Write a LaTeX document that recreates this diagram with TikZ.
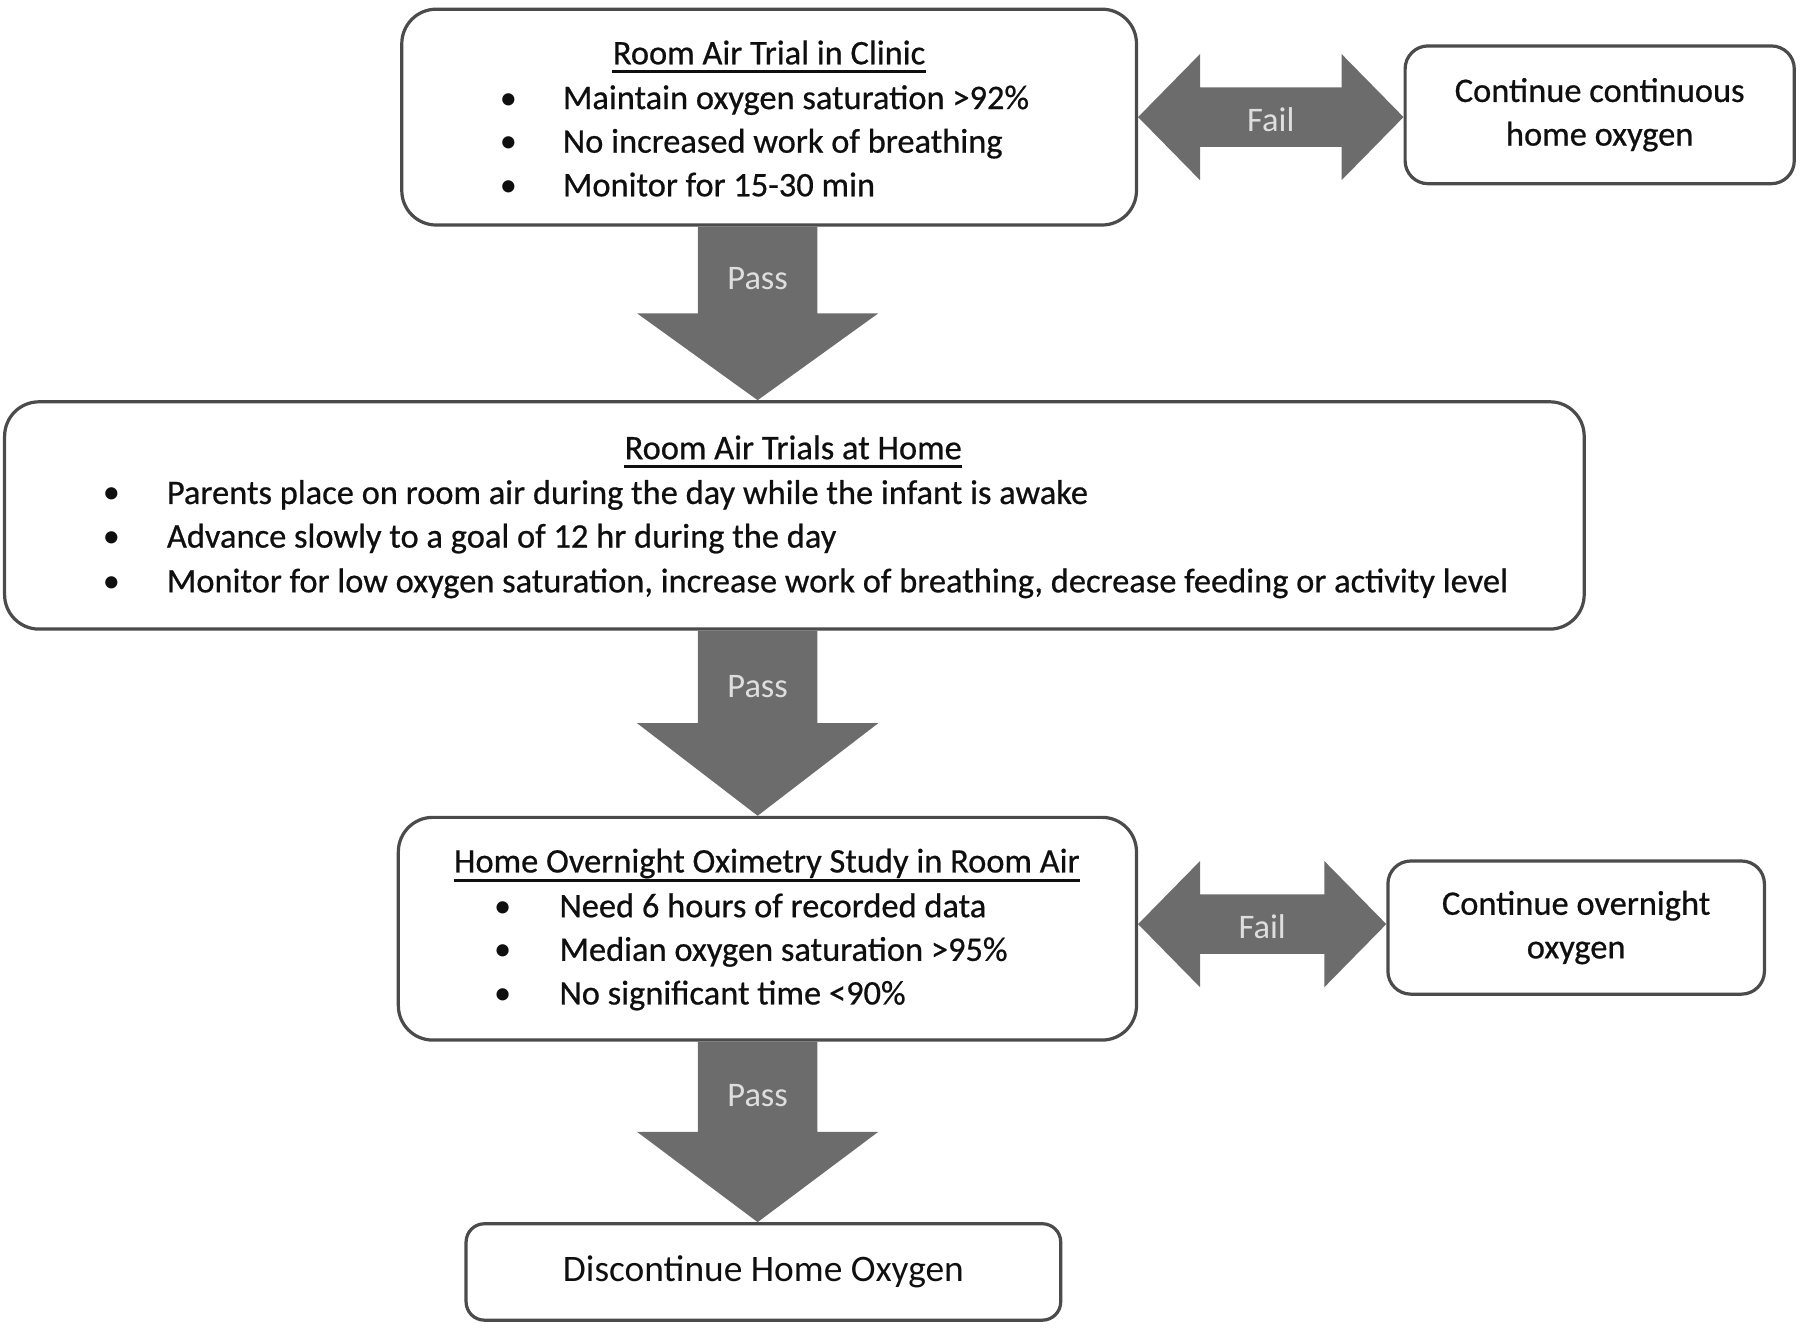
\documentclass[tikz,border=0pt]{standalone}
\usepackage{fontspec}
\setmainfont{Carlito}
\newfontfamily\heavyfont{Carlito}[FakeBold=0.6]
\usetikzlibrary{calc}
\definecolor{boxline}{RGB}{75,75,75}
\definecolor{arrowfill}{RGB}{108,108,108}
\definecolor{arrowtext}{RGB}{222,222,222}
\definecolor{txtcol}{RGB}{15,15,15}
\begin{document}
\begin{tikzpicture}[x=0.5pt,y=-0.5pt,
  box/.style={draw=boxline, line width=1.4pt, rounded corners=15pt, fill=white, inner sep=0pt},
  sbox/.style={box, rounded corners=10pt, align=center, text=txtcol, font=\heavyfont\fontsize{15}{19}\selectfont},
  txt/.style={font=\heavyfont\fontsize{15}{19}\selectfont, inner sep=0pt, anchor=base west, text=txtcol},
  ttl/.style={font=\heavyfont\fontsize{15}{19}\selectfont, inner sep=0pt, anchor=base, text=txtcol},
  bul/.style={font=\fontsize{15}{19}\selectfont, inner sep=0pt, anchor=base, text=txtcol},
  lbl/.style={font=\fontsize{15}{19}\selectfont, inner sep=0pt, text=arrowtext},
  uline/.style={line width=1.3pt, draw=txtcol},
  blockarrow/.style={fill=arrowfill}
]
\useasboundingbox (0,0) rectangle (1568,1158);

% boxes
\node[box, minimum width=320pt, minimum height=94pt] (b1) at (670,102) {};
\node[sbox, minimum width=169.5pt, minimum height=60pt] (r1) at (1393.5,100) {Continue continuous\\home oxygen};
\node[box, minimum width=688pt, minimum height=99pt] (b2) at (692,449) {};
\node[box, minimum width=321.5pt, minimum height=97pt] (b3) at (668.5,809) {};
\node[sbox, minimum width=164pt, minimum height=58pt] (r2) at (1373,808) {Continue overnight\\oxygen};
\node[box, rounded corners=8pt, minimum width=259pt, minimum height=42pt, text=txtcol,
      font=\fontsize{16.3}{19}\selectfont] (b4) at (665,1108) {Discontinue Home Oxygen};

% box 1 text
\node[ttl] (t1) at (670,56) {Room Air Trial in Clinic};
\draw[uline] ([yshift=-3pt]t1.base west) -- ([yshift=-3pt]t1.base east);
\node[bul] (b1u1) at (443,95) {•};
\node[bul] (b1u2) at (443,133) {•};
\node[bul] (b1u3) at (443,171) {•};
\node[txt] (b1l1) at (490,95) {Maintain oxygen saturation >92\%};
\node[txt] (b1l2) at (490,133) {No increased work of breathing};
\node[txt] (b1l3) at (490,171) {Monitor for 15-30 min};

% box 2 text
\node[ttl] (t2) at (691,400) {Room Air Trials at Home};
\draw[uline] ([yshift=-3pt]t2.base west) -- ([yshift=-3pt]t2.base east);
\node[bul] (b2u1) at (97,439) {•};
\node[bul] (b2u2) at (97,477) {•};
\node[bul] (b2u3) at (97,516) {•};
\node[txt] (b2l1) at (145,439) {Parents place on room air during the day while the infant is awake};
\node[txt] (b2l2) at (145,477) {Advance slowly to a goal of 12 hr during the day};
\node[txt] (b2l3) at (145,516) {Monitor for low oxygen saturation, increase work of breathing, decrease feeding or activity level};

% box 3 text
\node[ttl] (t3) at (668,760) {Home Overnight Oximetry Study in Room Air};
\draw[uline] ([yshift=-3.5pt]t3.base west) -- ([yshift=-3.5pt]t3.base east);
\node[bul] (b3u1) at (438,799) {•};
\node[bul] (b3u2) at (438,837) {•};
\node[bul] (b3u3) at (438,875) {•};
\node[txt] (b3l1) at (487,799) {Need 6 hours of recorded data};
\node[txt] (b3l2) at (487,837) {Median oxygen saturation >95\%};
\node[txt] (b3l3) at (487,875) {No significant time <90\%};

% pass arrows
\coordinate (ax) at (660,0);
\foreach \a/\b/\i in {b1/b2/1, b2/b3/2, b3/b4/3}{
  \coordinate (pt\i) at (ax |- \a.south);
  \coordinate (pe\i) at (ax |- \b.north);
  \coordinate (pm\i) at ($(pt\i)!0.5!(pe\i)$);
  \fill[blockarrow] ([xshift=-26pt]pt\i) -- ([xshift=26pt]pt\i) -- ([xshift=26pt]pm\i)
     -- ([xshift=52.5pt]pm\i) -- (pe\i) -- ([xshift=-52.5pt]pm\i) -- ([xshift=-26pt]pm\i) -- cycle;
  \node[lbl] (pass\i) at ($(pt\i)!0.6!(pm\i)$) {Pass};
}

% fail arrows
\coordinate (fs1) at (b1.east);
\coordinate (fe1) at (b1.east -| r1.west);
\coordinate (fs2) at ([yshift=2pt]b3.east);
\coordinate (fe2) at ([yshift=2pt]b3.east -| r2.west);
\foreach \i in {1,2}{
  \fill[blockarrow] (fs\i) -- ([xshift=27pt,yshift=27.5pt]fs\i) -- ([xshift=27pt,yshift=13pt]fs\i)
    -- ([xshift=-27pt,yshift=13pt]fe\i) -- ([xshift=-27pt,yshift=27.5pt]fe\i) -- (fe\i)
    -- ([xshift=-27pt,yshift=-27.5pt]fe\i) -- ([xshift=-27pt,yshift=-13pt]fe\i)
    -- ([xshift=27pt,yshift=-13pt]fs\i) -- ([xshift=27pt,yshift=-27.5pt]fs\i) -- cycle;
  \node[lbl] (fail\i) at ([yshift=-1pt]$(fs\i)!0.5!(fe\i)$) {Fail};
}
\end{tikzpicture}
\end{document}
